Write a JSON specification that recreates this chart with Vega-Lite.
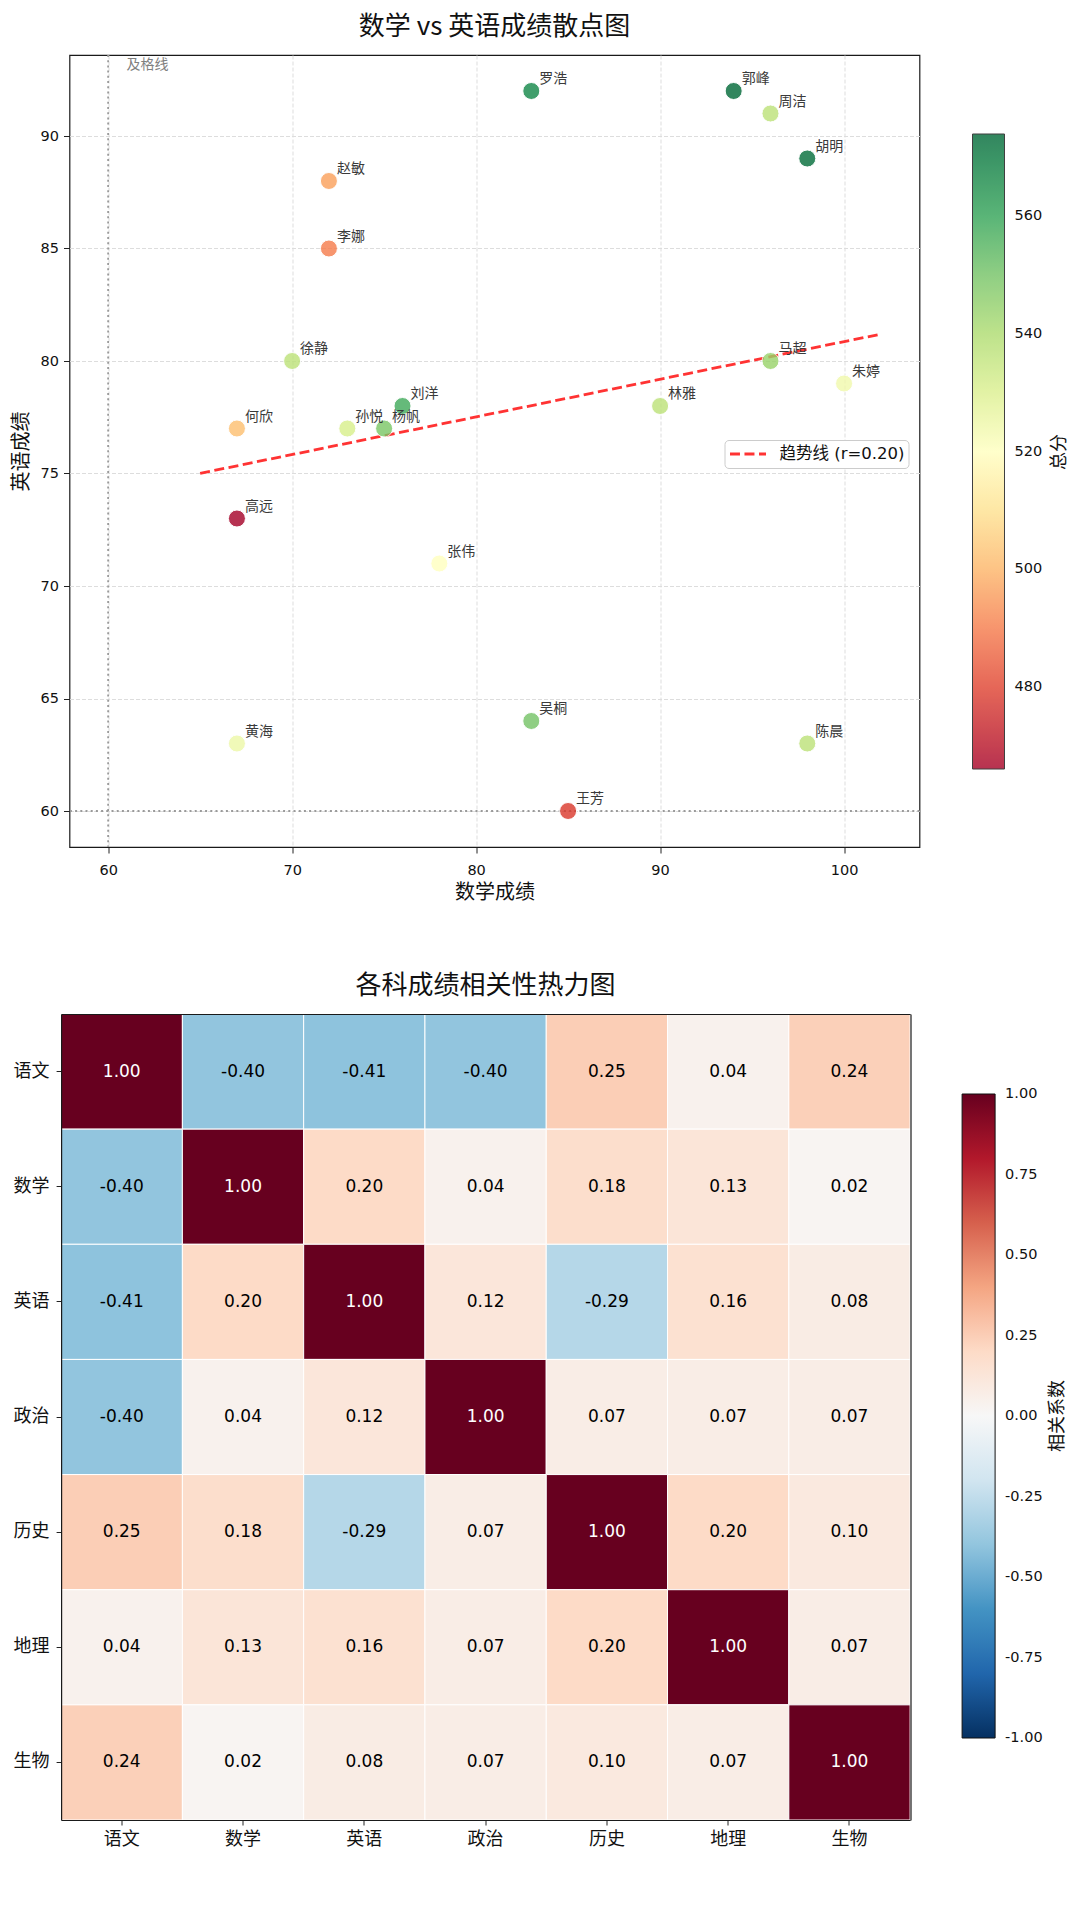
{
  "$schema": "https://vega.github.io/schema/vega-lite/v6.json",
  "background": "white",
  "padding": {"left": 9.5, "top": 13, "right": 0, "bottom": 0},
  "columns": 1,
  "spacing": 68,
  "resolve": {
    "scale": {"color": "independent", "stroke": "independent"},
    "legend": {"color": "independent", "stroke": "independent"}
  },
  "config": {
    "font": "DejaVu Sans, Noto Sans CJK SC",
    "locale": {"number": {"decimal": ".", "thousands": ",", "grouping": [3], "currency": ["", ""], "minus": "-"}},
    "view": {"stroke": "#1a1a1a", "strokeWidth": 1.2},
    "axis": {
      "labelFont": "DejaVu Sans, Noto Sans CJK SC",
      "titleFont": "Noto Sans CJK SC",
      "titleFontWeight": "normal",
      "labelColor": "#111111",
      "titleColor": "#111111",
      "tickColor": "#222222",
      "domain": false,
      "tickSize": 6,
      "labelPadding": 5,
      "labelFontSize": 14.5,
      "titleFontSize": 20
    },
    "title": {"font": "Noto Sans CJK SC", "fontWeight": "normal", "color": "#111111", "fontSize": 26, "anchor": "middle"},
    "legend": {
      "labelFont": "DejaVu Sans, Noto Sans CJK SC",
      "titleFont": "Noto Sans CJK SC",
      "titleFontWeight": "normal",
      "labelColor": "#111111",
      "titleColor": "#111111"
    }
  },
  "datasets": {
    "students": [
      {"name": "张伟", "math": 78, "english": 71, "total": 520},
      {"name": "王芳", "math": 85, "english": 60, "total": 478},
      {"name": "李娜", "math": 72, "english": 85, "total": 490},
      {"name": "刘洋", "math": 76, "english": 78, "total": 558},
      {"name": "陈晨", "math": 98, "english": 63, "total": 537},
      {"name": "杨帆", "math": 75, "english": 77, "total": 549},
      {"name": "赵敏", "math": 72, "english": 88, "total": 496},
      {"name": "黄海", "math": 67, "english": 63, "total": 525},
      {"name": "周洁", "math": 96, "english": 91, "total": 537},
      {"name": "吴桐", "math": 83, "english": 64, "total": 550},
      {"name": "徐静", "math": 70, "english": 80, "total": 537},
      {"name": "孙悦", "math": 73, "english": 77, "total": 531},
      {"name": "马超", "math": 96, "english": 80, "total": 544},
      {"name": "朱婷", "math": 100, "english": 79, "total": 524},
      {"name": "胡明", "math": 98, "english": 89, "total": 573},
      {"name": "林雅", "math": 90, "english": 78, "total": 537},
      {"name": "郭峰", "math": 94, "english": 92, "total": 574},
      {"name": "何欣", "math": 67, "english": 77, "total": 502},
      {"name": "罗浩", "math": 83, "english": 92, "total": 567},
      {"name": "高远", "math": 67, "english": 73, "total": 466}
    ],
    "corr": [
      {"row": "语文", "col": "语文", "value": 1.00},
      {"row": "语文", "col": "数学", "value": -0.40},
      {"row": "语文", "col": "英语", "value": -0.41},
      {"row": "语文", "col": "政治", "value": -0.40},
      {"row": "语文", "col": "历史", "value": 0.25},
      {"row": "语文", "col": "地理", "value": 0.04},
      {"row": "语文", "col": "生物", "value": 0.24},
      {"row": "数学", "col": "语文", "value": -0.40},
      {"row": "数学", "col": "数学", "value": 1.00},
      {"row": "数学", "col": "英语", "value": 0.20},
      {"row": "数学", "col": "政治", "value": 0.04},
      {"row": "数学", "col": "历史", "value": 0.18},
      {"row": "数学", "col": "地理", "value": 0.13},
      {"row": "数学", "col": "生物", "value": 0.02},
      {"row": "英语", "col": "语文", "value": -0.41},
      {"row": "英语", "col": "数学", "value": 0.20},
      {"row": "英语", "col": "英语", "value": 1.00},
      {"row": "英语", "col": "政治", "value": 0.12},
      {"row": "英语", "col": "历史", "value": -0.29},
      {"row": "英语", "col": "地理", "value": 0.16},
      {"row": "英语", "col": "生物", "value": 0.08},
      {"row": "政治", "col": "语文", "value": -0.40},
      {"row": "政治", "col": "数学", "value": 0.04},
      {"row": "政治", "col": "英语", "value": 0.12},
      {"row": "政治", "col": "政治", "value": 1.00},
      {"row": "政治", "col": "历史", "value": 0.07},
      {"row": "政治", "col": "地理", "value": 0.07},
      {"row": "政治", "col": "生物", "value": 0.07},
      {"row": "历史", "col": "语文", "value": 0.25},
      {"row": "历史", "col": "数学", "value": 0.18},
      {"row": "历史", "col": "英语", "value": -0.29},
      {"row": "历史", "col": "政治", "value": 0.07},
      {"row": "历史", "col": "历史", "value": 1.00},
      {"row": "历史", "col": "地理", "value": 0.20},
      {"row": "历史", "col": "生物", "value": 0.10},
      {"row": "地理", "col": "语文", "value": 0.04},
      {"row": "地理", "col": "数学", "value": 0.13},
      {"row": "地理", "col": "英语", "value": 0.16},
      {"row": "地理", "col": "政治", "value": 0.07},
      {"row": "地理", "col": "历史", "value": 0.20},
      {"row": "地理", "col": "地理", "value": 1.00},
      {"row": "地理", "col": "生物", "value": 0.07},
      {"row": "生物", "col": "语文", "value": 0.24},
      {"row": "生物", "col": "数学", "value": 0.02},
      {"row": "生物", "col": "英语", "value": 0.08},
      {"row": "生物", "col": "政治", "value": 0.07},
      {"row": "生物", "col": "历史", "value": 0.10},
      {"row": "生物", "col": "地理", "value": 0.07},
      {"row": "生物", "col": "生物", "value": 1.00}
    ]
  },
  "concat": [
    {
      "title": {"text": "数学 vs 英语成绩散点图", "offset": 14},
      "width": 850,
      "height": 792,
      "data": {"name": "students"},
      "layer": [
        {
          "data": {"values": [{}]},
          "mark": {"type": "rule", "color": "#9a9a9a", "strokeWidth": 1.8, "strokeDash": [2, 3.2]},
          "encoding": {
            "x": {"datum": 60, "type": "quantitative", "scale": {"domain": [57.9, 104.1], "nice": false, "zero": false}}
          }
        },
        {
          "data": {"values": [{}]},
          "mark": {"type": "rule", "color": "#9a9a9a", "strokeWidth": 1.8, "strokeDash": [2, 3.2]},
          "encoding": {
            "y": {"datum": 60, "type": "quantitative", "scale": {"domain": [58.4, 93.6], "nice": false, "zero": false}}
          }
        },
        {
          "data": {"values": [{}]},
          "mark": {"type": "text", "align": "left", "baseline": "alphabetic", "fontSize": 14, "color": "#808080", "font": "Noto Sans CJK SC"},
          "encoding": {
            "x": {"datum": 61, "type": "quantitative", "scale": {"domain": [57.9, 104.1], "nice": false, "zero": false}},
            "y": {"datum": 93, "type": "quantitative", "scale": {"domain": [58.4, 93.6], "nice": false, "zero": false}},
            "text": {"value": "及格线"}
          }
        },
        {
          "transform": [{"regression": "english", "on": "math", "extent": [65, 102]}],
          "mark": {"type": "line", "strokeWidth": 2.8, "strokeDash": [10, 4.5]},
          "encoding": {
            "x": {"field": "math", "type": "quantitative", "scale": {"domain": [57.9, 104.1], "nice": false, "zero": false}},
            "y": {"field": "english", "type": "quantitative", "scale": {"domain": [58.4, 93.6], "nice": false, "zero": false}},
            "stroke": {
              "datum": "趋势线 (r=0.20)",
              "scale": {"range": ["#ff3333"]},
              "legend": {
                "title": null,
                "orient": "none",
                "legendX": 655,
                "legendY": 385,
                "symbolType": "stroke",
                "symbolStrokeWidth": 2.8,
                "symbolDash": [10, 4.5],
                "symbolSize": 1300,
                "clipHeight": 20,
                "labelFontSize": 16.5,
                "labelOffset": 12,
                "labelLimit": 300,
                "fillColor": "white",
                "strokeColor": "#cccccc",
                "cornerRadius": 4,
                "padding": 4
              }
            }
          }
        },
        {
          "mark": {"type": "circle", "size": 290, "opacity": 0.8, "stroke": "white", "strokeWidth": 1},
          "encoding": {
            "x": {
              "field": "math", "type": "quantitative",
              "scale": {"domain": [57.9, 104.1], "nice": false, "zero": false},
              "axis": {"title": "数学成绩", "values": [60, 70, 80, 90, 100], "grid": true, "gridColor": "#dddddd", "gridDash": [4, 2], "labelPadding": 10, "titlePadding": 6}
            },
            "y": {
              "field": "english", "type": "quantitative",
              "scale": {"domain": [58.4, 93.6], "nice": false, "zero": false},
              "axis": {"title": "英语成绩", "values": [60, 65, 70, 75, 80, 85, 90], "grid": true, "gridColor": "#dddddd", "gridDash": [4, 2], "titlePadding": 9}
            },
            "color": {
              "field": "total", "type": "quantitative",
              "scale": {
                "domain": [466, 476.8, 487.6, 498.4, 509.2, 520, 530.8, 541.6, 552.4, 563.2, 574],
                "range": ["#a50026", "#d73027", "#f46d43", "#fdae61", "#fee08b", "#ffffbf", "#d9ef8b", "#a6d96a", "#66bd63", "#1a9850", "#006837"],
                "interpolate": "rgb"
              },
              "legend": {
                "title": "总分",
                "orient": "none",
                "direction": "vertical",
                "legendX": 903,
                "legendY": 79,
                "gradientLength": 635,
                "gradientThickness": 32,
                "gradientStrokeColor": "#111111",
                "gradientStrokeWidth": 1,
                "gradientOpacity": 0.8,
                "values": [480, 500, 520, 540, 560],
                "labelFontSize": 14.5,
                "labelOffset": 10,
                "titleOrient": "right",
                "titleAnchor": "middle",
                "titleFontSize": 18,
                "titlePadding": 8,
                "encode": {
                  "title": {"update": {"angle": {"value": -90}, "baseline": {"value": "top"}}},
                  "labels": {"update": {"baseline": {"value": "middle"}}}
                }
              }
            }
          }
        },
        {
          "mark": {"type": "text", "align": "left", "baseline": "alphabetic", "dx": 8, "dy": -8, "fontSize": 14, "color": "#3a3a3a", "font": "Noto Sans CJK SC"},
          "encoding": {
            "x": {"field": "math", "type": "quantitative", "scale": {"domain": [57.9, 104.1], "nice": false, "zero": false}},
            "y": {"field": "english", "type": "quantitative", "scale": {"domain": [58.4, 93.6], "nice": false, "zero": false}},
            "text": {"field": "name"}
          }
        }
      ]
    },
    {
      "title": {"text": "各科成绩相关性热力图", "offset": 15, "dx": -4.4},
      "width": 841,
      "height": 806,
      "view": {"stroke": null},
      "data": {"name": "corr"},
      "layer": [
        {
          "mark": {"type": "rect", "stroke": "white", "strokeWidth": 1},
          "encoding": {
            "x": {
              "field": "col", "type": "nominal",
              "sort": ["语文", "数学", "英语", "政治", "历史", "地理", "生物"],
              "scale": {"rangeMin": -8.4, "rangeMax": 840.6, "paddingInner": 0, "paddingOuter": 0},
              "axis": {"orient": "bottom", "title": null, "labelAngle": 0, "labelFont": "Noto Sans CJK SC", "labelFontSize": 18, "tickSize": 5, "labelPadding": 5, "domain": true, "domainColor": "#1a1a1a", "domainWidth": 1.2, "grid": false, "zindex": 1}
            },
            "y": {
              "field": "row", "type": "nominal",
              "sort": ["语文", "数学", "英语", "政治", "历史", "地理", "生物"],
              "scale": {"paddingInner": 0, "paddingOuter": 0},
              "axis": {"orient": "left", "title": null, "labelFont": "Noto Sans CJK SC", "labelFontSize": 18, "tickSize": 5, "labelPadding": 7, "offset": 8.4, "domain": true, "domainColor": "#1a1a1a", "domainWidth": 1.2, "grid": false, "zindex": 1}
            },
            "color": {
              "field": "value", "type": "quantitative",
              "scale": {
                "domain": [-1, -0.8, -0.6, -0.4, -0.2, 0, 0.2, 0.4, 0.6, 0.8, 1],
                "range": ["#053061", "#2166ac", "#4393c3", "#92c5de", "#d1e5f0", "#f7f7f7", "#fddbc7", "#f4a582", "#d6604d", "#b2182b", "#67001f"],
                "interpolate": "rgb"
              },
              "legend": {
                "title": "相关系数",
                "orient": "none",
                "direction": "vertical",
                "legendX": 892.6,
                "legendY": 80,
                "gradientLength": 644,
                "gradientThickness": 33,
                "gradientStrokeColor": "#111111",
                "gradientStrokeWidth": 1,
                "values": [-1, -0.75, -0.5, -0.25, 0, 0.25, 0.5, 0.75, 1],
                "format": ".2f",
                "labelFontSize": 14.5,
                "labelOffset": 10,
                "titleOrient": "right",
                "titleAnchor": "middle",
                "titleFontSize": 18,
                "titlePadding": 6,
                "encode": {
                  "title": {"update": {"angle": {"value": -90}, "baseline": {"value": "top"}}},
                  "labels": {"update": {"baseline": {"value": "middle"}}}
                }
              }
            }
          }
        },
        {
          "mark": {"type": "text", "fontSize": 17, "font": "DejaVu Sans"},
          "encoding": {
            "x": {
              "field": "col", "type": "nominal",
              "sort": ["语文", "数学", "英语", "政治", "历史", "地理", "生物"],
              "scale": {"rangeMin": -8.4, "rangeMax": 840.6, "paddingInner": 0, "paddingOuter": 0},
              "axis": {"orient": "top", "title": null, "labels": false, "ticks": false, "domain": true, "domainColor": "#1a1a1a", "domainWidth": 1.2, "grid": false, "zindex": 1}
            },
            "y": {
              "field": "row", "type": "nominal",
              "sort": ["语文", "数学", "英语", "政治", "历史", "地理", "生物"],
              "scale": {"paddingInner": 0, "paddingOuter": 0},
              "axis": {"orient": "right", "title": null, "labels": false, "ticks": false, "domain": true, "domainColor": "#1a1a1a", "domainWidth": 1.2, "grid": false, "zindex": 1}
            },
            "text": {"field": "value", "type": "quantitative", "format": ".2f"},
            "color": {"condition": {"test": "datum.value > 0.5", "value": "white"}, "value": "black"}
          }
        }
      ]
    }
  ]
}
